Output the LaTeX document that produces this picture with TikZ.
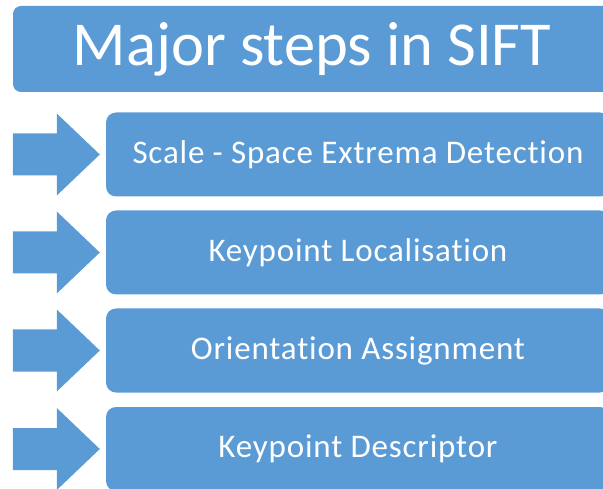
\documentclass[tikz,border=0pt]{standalone}
\usepackage{fontspec}
\setmainfont{Carlito}[Ligatures=NoCommon]
\newfontfamily\stepfont{Carlito}[Ligatures=NoCommon, LetterSpace=2.5]
\usetikzlibrary{calc}
\definecolor{stepblue}{RGB}{91,155,213}
\tikzset{
  titlebox/.style={fill=stepblue, rounded corners=8pt, minimum width=598pt, minimum height=86pt,
    inner sep=0pt, text=white, font=\fontsize{62.5}{62.5}\selectfont},
  stepbox/.style={fill=stepblue, rounded corners=10pt, minimum width=504pt, minimum height=84pt,
    inner sep=0pt, text=white, font=\stepfont\fontsize{33}{33}\selectfont},
  pics/blockarrow/.style={code={
    \fill[stepblue] (-87pt,21pt) -- (-43pt,21pt) -- (-43pt,41pt) -- (0pt,0pt)
      -- (-43pt,-41pt) -- (-43pt,-21pt) -- (-87pt,-21pt) -- cycle;
  }}
}
\begin{document}
\begin{tikzpicture}[x=1pt,y=-1pt]
  \useasboundingbox (0,0) rectangle (603,489);
  \node[titlebox] (title) at (312,49) {\raisebox{-2pt}{Major steps in SIFT}};
  \node[stepbox] (s1) at (358,154.5) {Scale - Space Extrema Detection};
  \node[stepbox] (s2) at (358,252.5) {Keypoint Localisation};
  \node[stepbox] (s3) at (358,350.5) {Orientation Assignment};
  \node[stepbox] (s4) at (358,449) {Keypoint Descriptor};
  \foreach \s in {s1,s2,s3,s4}
    \pic at ($(\s.west)+(-6pt,0)$) {blockarrow};
\end{tikzpicture}
\end{document}
